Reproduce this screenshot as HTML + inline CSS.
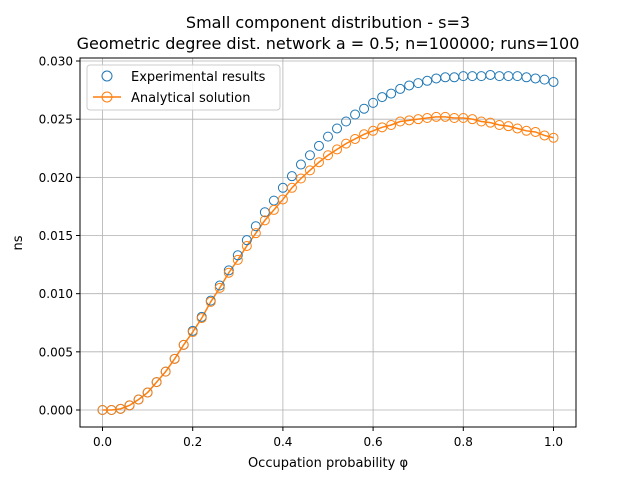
<!DOCTYPE html>
<html><head><meta charset="utf-8"><style>
body{margin:0;background:#fff}
svg text{font-family:"DejaVu Sans","Liberation Sans",sans-serif;fill:#000}
</style></head><body>
<svg id="chart" width="640" height="480">
<text x="328" y="28" font-size="16" text-anchor="middle">Small component distribution - s=3</text>
<text x="328" y="49" font-size="16" text-anchor="middle">Geometric degree dist. network a = 0.5; n=100000; runs=100</text>
<g id="grid"></g><g id="axes"></g><g id="series"></g>
<rect x="80" y="58" width="496" height="369" fill="none" stroke="#000" stroke-width="1"/>
<text x="328" y="467" font-size="13" text-anchor="middle">Occupation probability φ</text>
<text transform="translate(22,243) rotate(-90)" font-size="13" text-anchor="middle">ns</text>
<g>
<rect x="87" y="65" width="193" height="45" rx="3" fill="#fff" fill-opacity="0.8" stroke="#ccc"/>
<g>
<circle cx="107" cy="76" r="5" fill="none" stroke="#1f77b4" stroke-width="1"/>
<text x="131" y="81" font-size="13">Experimental results</text></g>
<g>
<line x1="93" y1="97" x2="121" y2="97" stroke="#ff7f0e" stroke-width="1.5"/>
<circle cx="107" cy="97" r="5" fill="none" stroke="#ff7f0e" stroke-width="1"/>
<text x="131" y="102" font-size="13">Analytical solution</text></g>
</g>
</svg>
<script>
const xValues=[0,0.02,0.04,0.06,0.08,0.10,0.12,0.14,0.16,0.18,0.20,0.22,0.24,0.26,0.28,0.30,0.32,0.34,0.36,0.38,0.40,0.42,0.44,0.46,0.48,0.50,0.52,0.54,0.56,0.58,0.60,0.62,0.64,0.66,0.68,0.70,0.72,0.74,0.76,0.78,0.80,0.82,0.84,0.86,0.88,0.90,0.92,0.94,0.96,0.98,1.0];
const experimental=[0,0,0.0001,0.0004,0.0009,0.0015,0.0024,0.0033,0.0044,0.0056,0.0068,0.0080,0.0094,0.0107,0.0120,0.0133,0.0146,0.0158,0.0170,0.0180,0.0191,0.0201,0.0211,0.0219,0.0227,0.0235,0.0242,0.0248,0.0254,0.0259,0.0264,0.0269,0.0272,0.0276,0.0279,0.0281,0.0283,0.0285,0.0286,0.0286,0.0287,0.0287,0.0287,0.0288,0.0287,0.0287,0.0287,0.0286,0.0285,0.0284,0.0282];
const analytical=[0,0,0.0001,0.0004,0.0009,0.0015,0.0024,0.0033,0.0044,0.0056,0.0067,0.0079,0.0093,0.0105,0.0118,0.0129,0.0141,0.0152,0.0163,0.0172,0.0181,0.0191,0.0199,0.0206,0.0213,0.0219,0.0224,0.0229,0.0233,0.0237,0.0240,0.0243,0.0245,0.0248,0.0249,0.0250,0.0251,0.0252,0.0252,0.0251,0.0251,0.0250,0.0248,0.0247,0.0245,0.0244,0.0242,0.0240,0.0239,0.0236,0.0234];
const xTicks=[0,0.2,0.4,0.6,0.8,1.0];
const xTickLabels=["0.0","0.2","0.4","0.6","0.8","1.0"];
const yTicks=[0,0.005,0.010,0.015,0.020,0.025,0.030];
const yTickLabels=["0.000","0.005","0.010","0.015","0.020","0.025","0.030"];
const NS="http://www.w3.org/2000/svg";
const X=v=>102.5+v*451;
const Y=v=>410-v*11633;
function mk(tag,attrs,parent){const e=document.createElementNS(NS,tag);for(const k in attrs)e.setAttribute(k,attrs[k]);parent.appendChild(e);return e;}
const grid=document.getElementById('grid'),axes=document.getElementById('axes'),series=document.getElementById('series');
xTicks.forEach((t,i)=>{
 const g=mk('line',{x1:X(t),x2:X(t),y1:58,y2:427,stroke:'#b0b0b0','stroke-width':0.8},grid);
 
 
 mk('line',{x1:X(t),x2:X(t),y1:427,y2:431,stroke:'#000'},axes);
 const tx=mk('text',{x:X(t),y:446,'font-size':12,'text-anchor':'middle'},axes);
 tx.textContent=xTickLabels[i];
 
 
});
yTicks.forEach((t,i)=>{
 const g=mk('line',{x1:80,x2:576,y1:Y(t),y2:Y(t),stroke:'#b0b0b0','stroke-width':0.8},grid);
 
 
 mk('line',{x1:76,x2:80,y1:Y(t),y2:Y(t),stroke:'#000'},axes);
 const tx=mk('text',{x:73,y:Y(t)+4.5,'font-size':12,'text-anchor':'end'},axes);
 tx.textContent=yTickLabels[i];
 
 
});
const line=mk('polyline',{points:xValues.map((x,i)=>X(x)+','+Y(analytical[i])).join(' '),fill:'none',stroke:'#ff7f0e','stroke-width':1.5},series);


xValues.forEach((x,i)=>{
 const c=mk('circle',{cx:X(x),cy:Y(experimental[i]),r:4.5,fill:'none',stroke:'#1f77b4','stroke-width':1},series);
 
 
});
xValues.forEach((x,i)=>{
 const c=mk('circle',{cx:X(x),cy:Y(analytical[i]),r:4.5,fill:'none',stroke:'#ff7f0e','stroke-width':1},series);
 
 
});
</script>
</body></html>
